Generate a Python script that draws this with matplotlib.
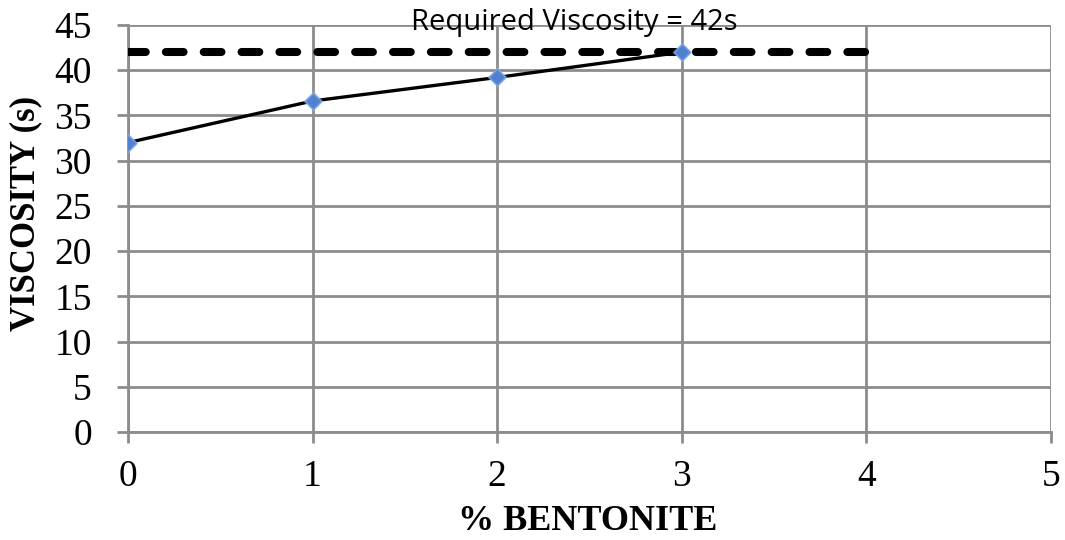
import matplotlib
matplotlib.use("Agg")
import matplotlib.pyplot as plt

bentonite = [0, 1, 2, 3]
viscosity = [32.0, 36.6, 39.2, 42.0]
required_x = [0, 4]
required_v = [42, 42]
x_ticks = [0, 1, 2, 3, 4, 5]
y_ticks = [0, 5, 10, 15, 20, 25, 30, 35, 40, 45]
title_text = "Required Viscosity = 42s"

gray = "#8c8c8c"
fig = plt.figure(figsize=(10.65, 5.4), dpi=100)
ax = fig.add_axes([0.1202, 0.2, 0.8667, 0.7537])

ax.plot(required_x, required_v, color="black", lw=5.8, linestyle=(0, (2.2, 2.5)),
        dash_capstyle="round", zorder=3)
ax.plot(bentonite, viscosity, color="black", lw=2.4, zorder=4)
ax.plot(bentonite, viscosity, linestyle="none", marker="D", ms=10,
        mfc="#9dbbe8", mec="none", alpha=0.6, zorder=5)
ax.plot(bentonite, viscosity, linestyle="none", marker="D", ms=8,
        mfc="#4f81d0", mec="#6f9be0", mew=1.0, zorder=6)

ax.set_xlim(0, 5)
ax.set_ylim(0, 45)
ax.set_xticks(x_ticks)
ax.set_yticks(y_ticks)
ax.grid(True, color=gray, lw=2.0)
ax.set_axisbelow(True)
for s in ["top", "right"]:
    ax.spines[s].set_visible(False)
for s in ["left", "bottom"]:
    ax.spines[s].set_color(gray)
    ax.spines[s].set_linewidth(2.0)
ax.tick_params(axis="both", direction="out", length=8, width=2.0, color=gray,
               labelsize=27, labelcolor="black")
ax.tick_params(axis="x", pad=12)
ax.tick_params(axis="y", pad=18)
for lab in ax.get_xticklabels() + ax.get_yticklabels():
    lab.set_fontfamily("Liberation Serif")

ax.set_xlabel("% BENTONITE", fontfamily="Liberation Serif", fontweight="bold",
              fontsize=26, va="center")
ax.set_ylabel("VISCOSITY (s)", fontfamily="Liberation Serif", fontweight="bold",
              fontsize=25, va="center")
ax.xaxis.set_label_coords(0.498, -0.221)
ax.yaxis.set_label_coords(-0.1105, 0.536)

fig.text(0.539, 0.945, title_text, ha="center", va="baseline",
         fontfamily="Open Sans", fontsize=21, color="black")

fig.savefig("out.png", dpi=100)
